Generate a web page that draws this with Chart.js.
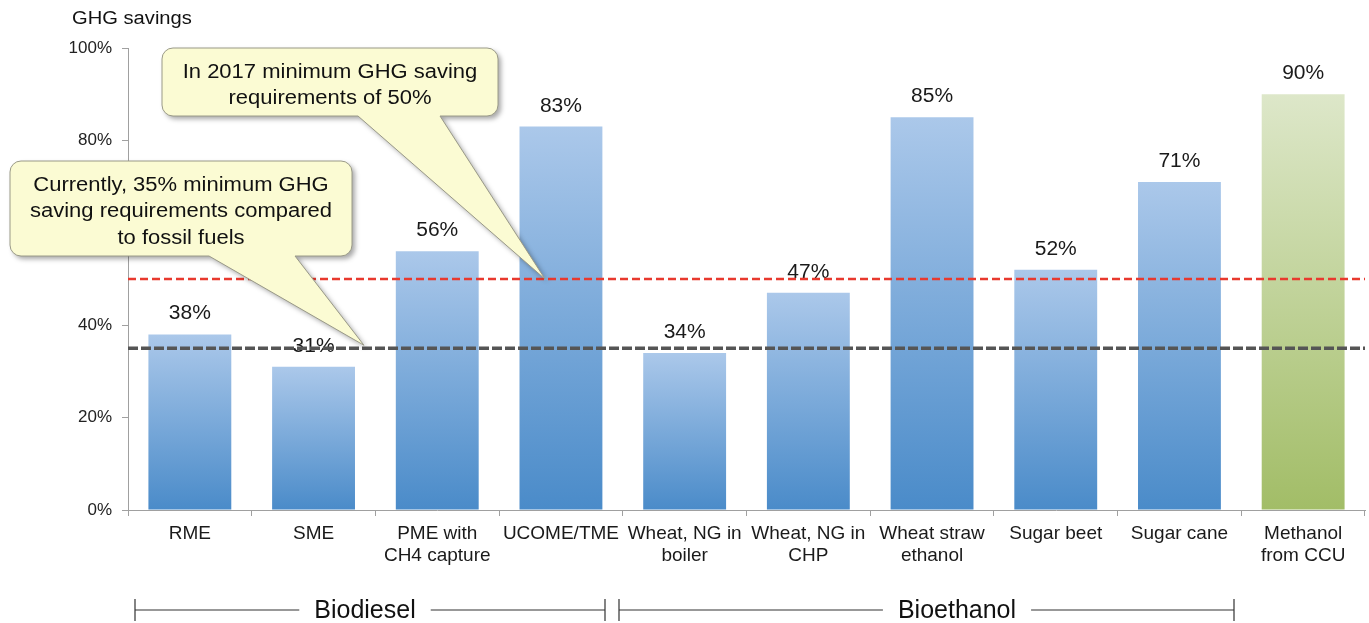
<!DOCTYPE html>
<html>
<head>
<meta charset="utf-8">
<title>GHG savings</title>
<script src="https://cdn.jsdelivr.net/npm/chart.js@4.4.1/dist/chart.umd.min.js"></script>
<style>
  html, body { margin: 0; padding: 0; background: #fff; }
  #wrap { width: 1369px; height: 623px; position: relative; }
</style>
</head>
<body>
<div id="wrap"><canvas id="ghgChart"></canvas></div>
<script>
// fuel pathways and their GHG savings (%)
const categories = [
    ['RME'], ['SME'], ['PME with', 'CH4 capture'], ['UCOME/TME'],
    ['Wheat, NG in', 'boiler'], ['Wheat, NG in', 'CHP'], ['Wheat straw', 'ethanol'],
    ['Sugar beet'], ['Sugar cane'], ['Methanol', 'from CCU']
];
const savings = [38, 31, 56, 83, 34, 47, 85, 52, 71, 90];
const yTickValues = [0, 20, 40, 60, 80, 100];

// minimum saving requirements
const currentMinimum = 35;
const minimum2017 = 50;

const groups = [
    { name: 'Biodiesel', from: 135, to: 605, textX: 365 },
    { name: 'Bioethanol', from: 619, to: 1234, textX: 957 }
];

const FONT = '"Liberation Sans", Arial, Helvetica, sans-serif';
Chart.defaults.font.family = FONT;
Chart.defaults.color = '#222';

function barFill(c) {
    const chart = c.chart;
    const area = chart.chartArea;
    const green = c.dataIndex === savings.length - 1;
    if (!area) return green ? '#c4d49c' : '#7aa8dc';
    const top = chart.scales.y.getPixelForValue(savings[c.dataIndex]);
    const g = chart.ctx.createLinearGradient(0, top, 0, area.bottom);
    if (green) {
        g.addColorStop(0, '#dde7c9');
        g.addColorStop(1, '#a2bd67');
    } else {
        g.addColorStop(0, '#abc8ea');
        g.addColorStop(1, '#4a8bc9');
    }
    return g;
}

// text slightly widened, like the rest of the figure
function wideText(ctx, text, x, y, sx) {
    ctx.save();
    ctx.translate(x, y);
    ctx.scale(sx, 1);
    ctx.fillText(text, 0, 0);
    ctx.restore();
}

// value labels above the bars
const barLabels = {
    id: 'barLabels',
    afterDatasetsDraw(chart) {
        const ctx = chart.ctx;
        const meta = chart.getDatasetMeta(0);
        ctx.save();
        ctx.font = '20px ' + FONT;
        ctx.fillStyle = '#1a1a1a';
        ctx.textAlign = 'center';
        ctx.textBaseline = 'alphabetic';
        meta.data.forEach((bar, i) => {
            wideText(ctx, savings[i] + '%', bar.x, bar.y - 15, 1.05);
        });
        ctx.restore();
    }
};

function drawCallout(ctx, box, tail, lines, y0) {
    const r = 11;
    const { x1, y1, x2, y2 } = box;
    ctx.save();
    ctx.beginPath();
    ctx.moveTo(x1 + r, y1);
    ctx.lineTo(x2 - r, y1);
    ctx.arcTo(x2, y1, x2, y1 + r, r);
    ctx.lineTo(x2, y2 - r);
    ctx.arcTo(x2, y2, x2 - r, y2, r);
    ctx.lineTo(tail.b2, y2);
    ctx.lineTo(tail.x, tail.y);
    ctx.lineTo(tail.b1, y2);
    ctx.lineTo(x1 + r, y2);
    ctx.arcTo(x1, y2, x1, y2 - r, r);
    ctx.lineTo(x1, y1 + r);
    ctx.arcTo(x1, y1, x1 + r, y1, r);
    ctx.closePath();
    ctx.shadowColor = 'rgba(0,0,0,0.35)';
    ctx.shadowBlur = 5;
    ctx.shadowOffsetX = 3;
    ctx.shadowOffsetY = 3;
    ctx.fillStyle = '#fbfbd3';
    ctx.fill();
    ctx.shadowColor = 'transparent';
    ctx.strokeStyle = '#9a9a88';
    ctx.lineWidth = 1;
    ctx.stroke();

    ctx.font = '20px ' + FONT;
    ctx.fillStyle = '#111';
    ctx.textAlign = 'center';
    ctx.textBaseline = 'middle';
    const cx = (x1 + x2) / 2;
    lines.forEach((t, i) => wideText(ctx, t, cx, y0 + i * 26.5, 1.1));
    ctx.restore();
}

const annotations = {
    id: 'annotations',
    afterDraw(chart) {
        const ctx = chart.ctx;
        const area = chart.chartArea;
        const y = chart.scales.y;

        // threshold lines
        const thresholds = [
            { v: minimum2017, color: '#e8392e', width: 2.5, dash: [8, 4] },
            { v: currentMinimum, color: '#555555', width: 3.5, dash: [10, 3] }
        ];
        ctx.save();
        thresholds.forEach(t => {
            const py = y.getPixelForValue(t.v);
            ctx.beginPath();
            ctx.setLineDash(t.dash);
            ctx.strokeStyle = t.color;
            ctx.lineWidth = t.width;
            ctx.moveTo(area.left, py);
            ctx.lineTo(area.right, py);
            ctx.stroke();
        });
        ctx.restore();

        // axis title
        ctx.save();
        ctx.font = '18px ' + FONT;
        ctx.fillStyle = '#111';
        ctx.textAlign = 'left';
        ctx.textBaseline = 'middle';
        wideText(ctx, 'GHG savings', 72, 19, 1.12);
        ctx.restore();

        // speech bubbles
        drawCallout(ctx, { x1: 10, y1: 161, x2: 352, y2: 256 },
            { b1: 209, b2: 295, x: 364, y: y.getPixelForValue(currentMinimum) - 3 },
            ['Currently, 35% minimum GHG', 'saving requirements compared', 'to fossil fuels'], 185);
        drawCallout(ctx, { x1: 162, y1: 48, x2: 498, y2: 116 },
            { b1: 358, b2: 440, x: 545, y: y.getPixelForValue(minimum2017) },
            ['In 2017 minimum GHG saving', 'requirements of 50%'], 72);

        // group brackets below the axis
        ctx.save();
        ctx.strokeStyle = '#333';
        ctx.lineWidth = 1.2;
        ctx.font = '25px ' + FONT;
        ctx.fillStyle = '#111';
        ctx.textAlign = 'center';
        ctx.textBaseline = 'middle';
        const by = 610;
        groups.forEach(g => {
            const half = ctx.measureText(g.name).width / 2 + 15;
            ctx.beginPath();
            ctx.moveTo(g.from, by - 11); ctx.lineTo(g.from, by + 11);
            ctx.moveTo(g.to, by - 11); ctx.lineTo(g.to, by + 11);
            ctx.moveTo(g.from, by); ctx.lineTo(g.textX - half, by);
            ctx.moveTo(g.textX + half, by); ctx.lineTo(g.to, by);
            ctx.stroke();
            ctx.fillText(g.name, g.textX, by + 1);
        });
        ctx.restore();
    }
};

new Chart(document.getElementById('ghgChart'), {
    type: 'bar',
    data: {
        labels: categories,
        datasets: [{
            data: savings,
            backgroundColor: barFill,
            borderWidth: 0,
            categoryPercentage: 1,
            barPercentage: 0.67
        }]
    },
    options: {
        responsive: true,
        maintainAspectRatio: false,
        animation: false,
        devicePixelRatio: 1,
        layout: { padding: { top: 48, right: 4, left: 0, bottom: 0 } },
        plugins: { legend: { display: false }, tooltip: { enabled: false } },
        scales: {
            x: {
                grid: { offset: true, drawOnChartArea: false, tickLength: 6, color: '#a0a0a0' },
                border: { color: '#a0a0a0' },
                ticks: { autoSkip: false, maxRotation: 0, padding: 6, color: '#1a1a1a', font: { size: 19 } },
                afterFit(scale) { scale.height = 113; }
            },
            y: {
                min: 0,
                max: 100,
                afterBuildTicks(scale) { scale.ticks = yTickValues.map(v => ({ value: v })); },
                grid: { drawOnChartArea: false, tickLength: 6, color: '#a0a0a0' },
                border: { color: '#a0a0a0' },
                ticks: { padding: 10, color: '#222', font: { size: 17 }, callback: v => v + '%' },
                afterFit(scale) { scale.width = 128; }
            }
        }
    },
    plugins: [barLabels, annotations]
});
</script>
</body>
</html>
